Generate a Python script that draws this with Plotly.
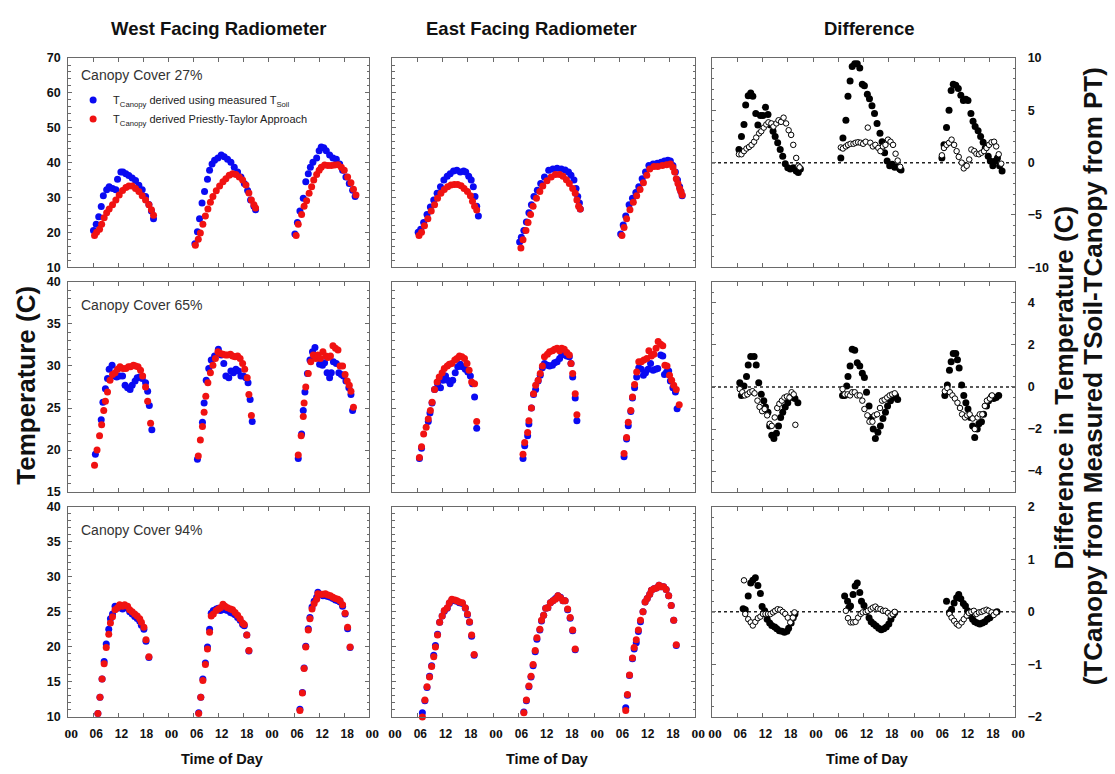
import plotly.graph_objects as go

FIG_W, FIG_H = 1115, 774
SANS = "Liberation Sans, Arial, sans-serif"

# ---------------------------------------------------------------------------
# Data: hours since midnight of day 1 (three consecutive days), temperatures (C)
# ---------------------------------------------------------------------------

# Canopy cover 27 %, west facing radiometer
west27_soil_hr = ([6.05, 6.7, 7.3, 7.9, 8.4, 9.2, 9.8, 10.6, 11.4, 11.8, 12.6, 13.1, 13.8, 14.5, 15.3, 16.1, 16.9, 17.7, 18.5, 19.3, 19.9, 20.4]
                  + [30.3, 30.9, 31.4, 32.0, 32.6, 33.3, 33.8, 34.4, 35.0, 35.8, 36.6, 37.3, 38.1, 38.9, 39.7, 40.5, 41.3, 42.1, 42.9, 43.6, 44.4, 44.8]
                  + [54.2, 54.8, 55.4, 56.2, 56.8, 57.4, 57.9, 58.5, 59.4, 60.0, 60.5, 61.1, 61.7, 62.5, 63.3, 64.1, 64.9, 65.6, 66.4, 67.2, 68.0, 68.6])
west27_soil = ([20.5, 22.3, 24.5, 27.4, 30.5, 32.2, 33.1, 32.6, 32.2, 35.2, 37.3, 37.3, 36.8, 36.3, 35.6, 34.9, 33.5, 32.2, 30.3, 28.0, 26.1, 23.9]
               + [16.7, 20.2, 23.9, 28.4, 31.7, 35.2, 37.8, 39.6, 40.7, 41.3, 42.2, 41.7, 41.0, 40.1, 38.7, 37.3, 35.9, 34.0, 32.0, 29.3, 27.5, 26.5]
               + [19.5, 22.8, 26.1, 29.8, 34.5, 36.8, 38.7, 40.1, 41.3, 43.4, 44.5, 44.3, 43.4, 42.2, 41.3, 41.0, 39.6, 37.8, 35.9, 34.0, 32.1, 30.3])
west27_pt_hr = ([6.3, 6.8, 7.5, 8.0, 8.6, 9.2, 9.8, 10.6, 11.4, 12.2, 13.0, 13.8, 14.5, 15.3, 16.1, 16.9, 17.7, 18.5, 19.3, 19.9, 20.4]
                + [30.4, 31.1, 31.6, 32.2, 32.8, 33.4, 34.0, 34.6, 35.4, 36.2, 37.0, 37.7, 38.5, 39.3, 40.1, 40.9, 41.7, 42.5, 43.2, 43.8, 44.4, 44.8]
                + [54.5, 55.0, 55.8, 56.4, 57.0, 57.6, 58.2, 58.7, 59.4, 60.0, 60.5, 61.3, 62.1, 62.9, 63.7, 64.5, 65.3, 66.0, 66.8, 67.6, 68.2, 68.8])
west27_pt = ([19.1, 20.0, 20.9, 22.3, 24.2, 25.6, 26.7, 27.9, 29.3, 30.7, 32.0, 32.9, 33.3, 33.3, 32.6, 31.7, 30.5, 29.3, 27.9, 26.5, 24.9]
             + [16.3, 18.0, 19.8, 22.3, 24.7, 26.7, 28.6, 30.3, 31.9, 33.3, 34.5, 35.4, 36.4, 36.8, 36.6, 35.9, 35.0, 33.6, 31.3, 29.3, 27.9, 27.0]
             + [19.1, 22.3, 25.1, 27.5, 29.1, 31.2, 33.1, 35.0, 36.6, 37.8, 38.7, 39.3, 39.2, 39.2, 39.3, 39.4, 38.7, 37.8, 35.9, 34.2, 32.4, 30.7])

# Canopy cover 27 %, east facing radiometer
east27_soil_hr = ([6.2, 6.8, 7.5, 8.3, 9.1, 9.9, 10.7, 11.5, 12.3, 13.1, 13.8, 14.6, 15.4, 16.2, 17.0, 17.5, 18.2, 18.8, 19.3, 19.7, 20.1, 20.5]
                  + [30.3, 30.7, 31.3, 31.9, 32.5, 33.1, 33.7, 34.5, 35.3, 36.2, 37.2, 38.2, 39.2, 40.2, 41.1, 41.9, 42.5, 43.2, 43.7, 44.1, 44.5, 44.7]
                  + [54.3, 54.9, 55.5, 56.3, 57.1, 57.9, 58.6, 59.4, 60.2, 61.0, 62.0, 63.0, 63.9, 64.7, 65.5, 66.1, 66.7, 67.3, 67.8, 68.3, 68.6, 68.9])
east27_soil = ([20.0, 20.9, 22.8, 25.1, 27.3, 29.3, 31.2, 33.1, 35.0, 36.1, 36.8, 37.6, 37.8, 37.3, 37.6, 37.3, 36.1, 35.0, 33.1, 30.3, 27.5, 24.7]
               + [17.2, 18.6, 20.5, 23.0, 25.6, 27.9, 30.3, 32.1, 34.0, 35.9, 37.8, 38.2, 38.4, 38.2, 37.9, 37.3, 36.4, 35.0, 32.6, 30.3, 28.4, 26.7]
               + [19.5, 22.1, 24.7, 27.9, 29.8, 31.4, 33.1, 35.4, 37.3, 39.2, 39.6, 39.8, 40.1, 40.5, 40.7, 40.5, 39.2, 37.3, 35.0, 33.1, 31.7, 30.5])
east27_pt_hr = ([6.4, 7.0, 7.7, 8.5, 9.3, 10.1, 10.8, 11.6, 12.4, 13.2, 14.0, 14.8, 15.6, 16.4, 17.1, 17.9, 18.6, 19.1, 19.6, 20.1]
                + [30.6, 31.1, 31.8, 32.3, 32.9, 33.5, 34.3, 35.1, 35.8, 36.8, 37.8, 38.8, 39.8, 40.6, 41.4, 42.1, 42.9, 43.5, 43.9, 44.3, 44.7]
                + [54.6, 55.1, 55.7, 56.5, 57.3, 58.1, 58.9, 59.7, 60.5, 61.2, 62.2, 63.1, 64.2, 65.2, 66.1, 66.7, 67.1, 67.5, 67.9, 68.3, 68.6, 68.9])
east27_pt = ([19.1, 20.0, 21.9, 23.9, 26.1, 27.9, 29.8, 31.2, 32.3, 33.1, 33.6, 33.7, 33.7, 33.4, 32.6, 31.7, 30.5, 28.9, 27.5, 26.4]
             + [15.5, 17.9, 20.5, 22.8, 25.1, 27.5, 29.8, 31.7, 33.3, 34.8, 35.9, 36.6, 36.6, 36.1, 35.1, 34.0, 32.6, 31.2, 29.3, 27.5, 26.7]
             + [19.1, 21.4, 23.9, 26.5, 28.6, 30.5, 32.3, 34.2, 36.4, 38.2, 38.9, 38.9, 39.2, 39.4, 39.6, 38.7, 37.3, 35.4, 34.0, 32.6, 31.7, 30.7])

# Canopy cover 27 %, differences (west = filled, east = open)
diff27_west_hr = ([6.4, 7.0, 7.6, 8.0, 8.6, 9.2, 9.7, 10.4, 10.9, 11.5, 12.1, 12.7, 13.3, 13.9, 14.5, 15.0, 15.6, 16.2, 16.8, 17.4, 18.0, 18.6, 19.3, 20.0, 20.5, 21.0]
                  + [30.6, 31.1, 31.8, 32.3, 32.8, 33.3, 33.9, 34.5, 35.1, 35.7, 36.2, 36.9, 37.4, 38.0, 38.6, 39.2, 39.9, 40.4, 41.0, 41.6, 42.2, 42.8, 43.4, 43.9, 44.6, 44.9]
                  + [54.6, 55.1, 55.7, 56.3, 56.8, 57.3, 57.9, 58.5, 59.1, 59.7, 60.3, 60.8, 61.5, 62.0, 62.5, 63.2, 63.8, 64.4, 64.9, 65.6, 66.1, 66.7, 67.3, 67.8, 68.3, 68.9])
diff27_west = ([1.25, 2.5, 3.65, 5.5, 6.4, 6.65, 6.35, 4.7, 3.6, 4.5, 4.5, 5.3, 4.6, 3.6, 3.0, 2.5, 1.9, 1.25, 0.6, -0.1, -0.5, -0.6, -0.5, -0.8, -0.95, -0.6]
               + [0.45, 2.35, 4.05, 6.35, 7.8, 9.2, 9.45, 9.45, 9.05, 7.5, 7.35, 6.55, 6.1, 5.45, 4.7, 3.75, 2.8, 2.0, 0.95, 0.15, -0.3, -0.15, -0.45, -0.4, -0.6, -0.7]
               + [0.45, 1.7, 3.35, 5.0, 6.9, 7.5, 7.4, 7.1, 6.45, 5.95, 6.05, 5.95, 4.7, 3.95, 3.45, 3.05, 2.5, 1.95, 1.4, 0.6, 0.15, -0.3, 0.15, 0.45, -0.3, -0.8])
diff27_east_hr = ([6.4, 7.0, 7.6, 8.2, 8.8, 9.4, 10.0, 10.5, 11.2, 11.7, 12.3, 12.9, 13.4, 14.1, 14.6, 15.3, 15.8, 16.4, 17.0, 17.6, 18.2, 18.8, 19.3, 20.0, 20.5, 20.8]
                  + [30.6, 31.1, 31.8, 32.3, 32.9, 33.6, 34.1, 34.7, 35.3, 35.9, 36.5, 37.0, 37.6, 38.2, 38.8, 39.5, 40.0, 40.6, 41.2, 41.8, 42.4, 43.0, 43.6, 44.1, 44.7]
                  + [54.6, 55.1, 55.7, 56.3, 56.9, 57.5, 58.1, 58.6, 59.3, 59.8, 60.5, 61.1, 61.6, 62.3, 62.8, 63.4, 64.0, 64.6, 65.2, 65.8, 66.4, 67.0, 67.5, 68.1, 68.7])
diff27_east = ([0.8, 0.8, 1.1, 1.35, 1.5, 1.7, 2.0, 2.4, 2.8, 3.0, 3.35, 3.65, 3.85, 3.75, 3.45, 3.75, 4.05, 3.9, 4.3, 3.75, 3.1, 2.65, 1.7, 0.45, -0.3, -0.45]
               + [1.45, 1.35, 1.55, 1.7, 1.8, 1.8, 1.9, 1.95, 1.9, 1.8, 2.0, 3.35, 1.9, 1.55, 1.7, 1.4, 1.1, 1.55, 1.7, 2.2, 2.0, 1.7, 0.85, 0.2, -0.4]
               + [0.7, 1.4, 1.7, 1.9, 2.2, 1.7, 1.1, 0.55, 0.0, -0.55, -0.3, 0.3, 1.25, 1.1, 0.85, 0.8, 0.95, 1.1, 1.4, 1.7, 1.95, 2.0, 1.55, 0.8, -0.1])

# Canopy cover 65 %, west facing radiometer
west65_soil_hr = ([6.5, 7.9, 8.3, 8.9, 9.4, 9.8, 10.5, 11.0, 11.6, 12.3, 13.0, 13.6, 14.2, 14.8, 15.3, 16.0, 16.5, 17.1, 17.7, 18.5, 19.0, 19.4, 20.0]
                  + [30.9, 32.1, 32.5, 33.0, 33.6, 34.2, 35.0, 35.9, 36.6, 37.2, 37.7, 38.4, 38.9, 39.5, 40.1, 40.7, 41.3, 41.9, 42.5, 43.0, 43.5, 44.0]
                  + [55.0, 55.8, 56.2, 56.6, 57.2, 57.8, 58.4, 59.0, 59.5, 60.1, 60.8, 61.3, 61.9, 62.5, 62.9, 63.4, 64.1, 64.7, 65.3, 65.8, 66.4, 67.1, 67.6, 68.0])
west65_soil = ([19.5, 23.6, 25.7, 27.3, 28.5, 29.6, 30.1, 28.8, 28.7, 28.8, 28.8, 27.7, 27.4, 27.2, 27.7, 28.2, 28.6, 28.7, 28.5, 28.0, 27.0, 25.3, 22.4]
               + [18.9, 23.3, 25.6, 28.3, 29.7, 30.7, 31.2, 32.0, 31.3, 30.3, 28.8, 28.6, 29.4, 29.2, 29.6, 29.4, 28.8, 28.8, 28.6, 28.0, 26.0, 23.4]
               + [19.0, 21.9, 24.7, 26.9, 29.1, 30.7, 31.7, 32.2, 31.1, 30.2, 30.1, 30.4, 29.2, 28.6, 29.2, 30.5, 30.3, 29.2, 29.0, 28.8, 28.2, 27.4, 26.6, 24.7])
west65_pt_hr = ([6.3, 6.9, 7.5, 8.0, 8.5, 8.9, 9.4, 10.0, 10.6, 11.2, 11.8, 12.4, 13.1, 13.8, 14.4, 14.9, 15.6, 16.1, 16.7, 17.3, 17.8, 18.5, 19.0, 19.7]
                + [31.1, 31.6, 32.1, 32.5, 32.9, 33.4, 34.0, 34.6, 35.2, 35.8, 36.4, 37.0, 37.6, 38.1, 38.8, 39.3, 39.9, 40.5, 41.1, 41.7, 42.2, 42.8, 43.2, 43.8]
                + [55.0, 55.7, 56.2, 56.4, 56.8, 57.4, 58.0, 58.6, 59.2, 59.7, 60.3, 60.9, 61.6, 62.1, 62.7, 63.3, 63.9, 64.5, 65.0, 65.6, 66.2, 66.7, 67.2, 67.6, 68.2])
west65_pt = ([18.2, 20.0, 21.7, 23.0, 24.7, 25.8, 26.9, 28.3, 29.0, 29.2, 29.6, 29.9, 29.7, 29.7, 29.9, 29.9, 30.1, 30.0, 29.9, 29.5, 28.8, 27.5, 25.8, 23.2]
             + [19.3, 21.2, 22.8, 24.5, 26.4, 28.0, 29.2, 30.1, 30.9, 31.7, 31.5, 31.4, 31.3, 31.3, 31.4, 31.2, 31.1, 31.2, 30.9, 30.3, 29.6, 28.6, 26.6, 24.1]
             + [19.4, 21.7, 24.0, 25.6, 27.5, 29.1, 30.5, 31.3, 30.9, 31.3, 30.9, 31.7, 31.2, 31.0, 31.2, 32.4, 32.1, 31.9, 30.0, 30.0, 29.0, 28.2, 27.7, 27.0, 25.1])

# Canopy cover 65 %, east facing radiometer
east65_soil_hr = ([6.5, 7.0, 8.6, 9.0, 9.5, 10.1, 10.8, 11.5, 12.1, 12.7, 13.2, 13.8, 14.4, 15.0, 15.6, 16.2, 16.7, 17.4, 18.0, 18.6, 19.1, 19.6, 20.1]
                  + [31.1, 31.5, 32.2, 32.5, 33.1, 33.6, 34.1, 34.7, 35.2, 35.7, 36.2, 36.9, 37.4, 38.1, 38.6, 39.2, 39.8, 40.3, 40.9, 41.5, 42.1, 42.5, 42.9, 43.5, 43.9]
                  + [55.1, 55.7, 56.1, 56.7, 57.1, 57.6, 58.1, 58.6, 59.2, 59.7, 60.2, 60.8, 61.4, 62.0, 62.6, 63.1, 63.8, 64.3, 64.7, 65.2, 65.7, 66.1, 66.7, 67.3, 67.7])
east65_soil = ([19.0, 20.2, 23.4, 24.4, 25.6, 27.2, 27.9, 27.4, 28.3, 28.8, 28.3, 27.9, 28.3, 29.2, 29.9, 30.2, 29.9, 29.6, 29.3, 28.8, 27.9, 26.3, 22.6]
               + [19.0, 20.5, 21.7, 23.1, 25.0, 26.6, 27.2, 28.2, 28.9, 29.8, 30.3, 30.1, 30.0, 30.1, 30.4, 30.5, 30.9, 31.3, 31.6, 31.2, 31.1, 30.3, 28.7, 26.2, 23.5]
               + [19.2, 21.3, 22.9, 24.6, 26.2, 27.4, 28.7, 29.8, 29.6, 28.9, 29.2, 29.6, 30.3, 29.5, 29.6, 29.7, 31.3, 31.2, 29.0, 29.3, 29.4, 28.2, 27.4, 26.9, 24.9])
east65_pt_hr = ([6.5, 7.0, 7.5, 8.1, 8.6, 9.1, 9.5, 10.1, 10.7, 11.2, 11.9, 12.4, 13.1, 13.6, 14.2, 14.9, 15.4, 16.0, 16.6, 17.2, 17.8, 18.3, 18.9, 19.6, 20.1]
                + [31.1, 31.5, 32.2, 32.5, 33.1, 33.6, 34.1, 34.7, 35.2, 35.7, 36.2, 36.9, 37.4, 38.1, 38.6, 39.2, 39.8, 40.3, 40.9, 41.5, 42.1, 42.5, 42.9, 43.5, 43.9]
                + [55.1, 55.7, 56.1, 56.7, 57.1, 57.6, 58.1, 58.6, 59.2, 59.8, 60.5, 61.0, 61.6, 62.2, 62.7, 63.2, 63.8, 64.3, 64.8, 65.3, 65.9, 66.4, 66.9, 67.5, 68.2])
east65_pt = ([19.1, 20.4, 21.9, 22.7, 23.7, 24.7, 25.7, 27.2, 28.1, 28.7, 29.2, 29.7, 30.0, 30.2, 30.3, 30.7, 30.9, 31.2, 31.1, 30.9, 30.3, 29.5, 28.1, 27.9, 23.4]
             + [19.5, 20.9, 22.1, 23.5, 25.0, 26.7, 27.7, 28.3, 29.1, 30.0, 31.1, 31.4, 31.7, 31.8, 32.0, 32.1, 31.8, 32.1, 32.0, 31.6, 31.3, 30.3, 29.1, 26.7, 24.2]
             + [19.6, 21.5, 23.3, 24.7, 26.3, 27.8, 29.3, 30.5, 30.5, 30.7, 30.9, 31.8, 31.2, 31.4, 32.1, 32.9, 32.6, 32.4, 30.1, 30.0, 28.9, 28.3, 27.7, 27.2, 25.4])

# Canopy cover 65 %, differences
diff65_west_hr = ([6.6, 7.0, 7.6, 8.2, 8.6, 9.2, 10.0, 10.5, 11.1, 11.7, 12.3, 12.7, 13.3, 13.7, 14.2, 14.7, 15.3, 15.8, 16.3, 16.8, 17.4, 18.0, 18.6, 19.2, 19.7, 20.4]
                  + [31.0, 31.5, 32.0, 32.3, 32.8, 33.3, 33.9, 34.5, 35.1, 35.7, 36.2, 36.7, 37.3, 37.8, 38.3, 38.8, 39.4, 40.0, 40.6, 41.2, 41.7, 42.4, 43.0, 43.6, 44.1]
                  + [55.3, 55.9, 56.4, 56.8, 57.3, 57.9, 58.3, 58.7, 59.3, 59.8, 60.3, 60.8, 61.4, 61.9, 62.4, 63.0, 63.4, 64.0, 64.5, 65.2, 65.7, 66.4, 66.9, 67.5, 68.1])
diff65_west = ([0.2, -0.4, 0.05, 0.5, 1.05, 1.45, 1.45, 1.05, 0.2, -0.35, -0.65, -0.95, -1.2, -1.85, -2.3, -2.45, -2.2, -1.85, -1.45, -1.2, -0.95, -0.75, -0.5, -0.4, -0.55, -0.75]
               + [-0.4, -0.4, 0.05, 0.5, 1.0, 1.8, 1.75, 1.15, 1.0, 0.65, 0.45, -0.25, -0.9, -1.45, -2.0, -2.45, -2.15, -1.85, -1.5, -1.2, -0.9, -0.65, -0.5, -0.4, -0.6]
               + [-0.4, 0.1, 0.8, 1.2, 1.6, 1.6, 1.3, 0.9, 0.1, -0.4, -0.75, -1.05, -1.45, -1.85, -2.4, -2.0, -1.75, -1.65, -1.3, -0.9, -0.65, -0.45, -0.55, -0.5, -0.4])
diff65_east_hr = ([6.6, 7.2, 7.8, 8.4, 9.0, 9.6, 10.1, 10.8, 11.3, 11.9, 12.5, 13.1, 13.7, 14.2, 14.9, 15.5, 16.0, 16.6, 17.2, 17.8, 18.4, 18.9, 19.4, 19.8]
                  + [31.0, 31.5, 32.2, 32.8, 33.3, 33.9, 34.5, 35.1, 35.7, 36.2, 36.9, 37.4, 38.1, 38.6, 39.2, 39.9, 40.4, 41.0, 41.6, 42.2, 42.8, 43.4]
                  + [55.3, 55.9, 56.5, 57.1, 57.7, 58.3, 58.9, 59.4, 60.1, 60.6, 61.2, 61.9, 62.4, 63.1, 63.6, 64.2, 64.8, 65.3, 66.0, 66.5])
diff65_east = ([-0.1, -0.25, -0.4, -0.35, -0.25, -0.2, -0.3, -0.65, -0.95, -1.15, -1.05, -1.35, -1.75, -1.85, -1.45, -1.0, -0.8, -0.65, -0.5, -0.45, -0.5, -0.25, -0.35, -1.8]
               + [-0.1, -0.35, -0.35, -0.4, -0.25, -0.25, -0.4, -0.4, -0.65, -1.05, -1.35, -1.65, -1.65, -1.35, -1.3, -1.0, -0.65, -0.6, -0.5, -0.4, -0.35, -0.3]
               + [-0.2, -0.05, -0.25, -0.4, -0.55, -0.75, -1.0, -1.3, -1.45, -1.35, -1.3, -1.5, -2.0, -1.45, -1.3, -1.3, -0.9, -0.65, -0.55, -0.4])

# Canopy cover 94 %, west facing radiometer (both series sampled at the same times)
west94_hr = ([7.1, 7.6, 8.1, 8.6, 9.1, 9.7, 10.1, 10.6, 11.2, 11.8, 12.3, 13.0, 13.5, 14.2, 14.7, 15.3, 15.9, 16.5, 17.1, 17.5, 18.1, 18.6, 19.3]
             + [31.2, 31.7, 32.2, 32.8, 33.3, 33.8, 34.2, 34.7, 35.4, 35.9, 36.4, 37.0, 37.5, 38.1, 38.8, 39.3, 39.9, 40.5, 41.1, 41.7, 42.1, 42.7, 43.2]
             + [55.4, 56.0, 56.4, 56.8, 57.4, 57.8, 58.3, 58.8, 59.4, 59.7, 60.3, 60.9, 61.5, 62.1, 62.7, 63.3, 63.9, 64.5, 65.0, 65.6, 66.2, 66.8, 67.4])
west94_soil = ([10.5, 12.8, 15.4, 17.9, 20.4, 22.5, 24.0, 24.7, 25.8, 25.5, 25.7, 25.4, 25.7, 25.5, 25.0, 24.7, 24.35, 24.05, 23.65, 23.1, 22.5, 20.8, 18.5]
               + [10.6, 12.8, 15.4, 17.7, 20.0, 22.5, 24.8, 25.2, 25.4, 25.5, 25.2, 25.4, 25.3, 25.2, 24.9, 24.8, 24.6, 24.2, 23.8, 23.2, 23.0, 21.7, 19.4]
               + [11.1, 13.5, 17.0, 20.1, 22.6, 24.2, 25.7, 26.5, 27.1, 27.8, 27.5, 27.3, 27.3, 27.2, 27.1, 26.9, 26.7, 26.6, 26.4, 25.8, 24.7, 22.6, 19.9])
west94_pt = ([10.5, 12.8, 15.4, 17.6, 19.9, 21.8, 23.4, 24.3, 25.3, 25.6, 26.0, 25.8, 26.0, 25.8, 25.3, 25.0, 24.7, 24.4, 24.0, 23.5, 22.8, 21.0, 18.6]
             + [10.5, 12.8, 15.2, 17.5, 19.7, 22.1, 24.4, 24.7, 25.2, 25.4, 25.6, 26.1, 25.8, 25.6, 25.4, 25.3, 24.9, 24.5, 24.0, 23.4, 23.2, 21.7, 19.5]
             + [10.9, 13.4, 16.9, 20.0, 22.4, 24.0, 25.4, 26.2, 26.8, 27.6, 27.5, 27.5, 27.6, 27.4, 27.3, 27.1, 26.9, 26.8, 26.6, 26.0, 24.8, 22.8, 20.0])

# Canopy cover 94 %, east facing radiometer
east94_hr = ([7.2, 7.8, 8.3, 8.9, 9.4, 9.9, 10.3, 10.8, 11.3, 11.9, 12.4, 13.1, 13.6, 14.2, 14.9, 15.4, 16.0, 16.7, 17.4, 17.9, 18.4, 18.9, 19.5]
             + [31.3, 31.9, 32.5, 33.0, 33.5, 34.0, 34.4, 35.1, 35.5, 36.0, 36.5, 37.0, 37.6, 38.2, 38.8, 39.4, 40.0, 40.6, 41.1, 41.7, 42.3, 42.9, 43.5]
             + [55.5, 55.9, 56.4, 57.1, 57.5, 58.0, 58.5, 59.0, 59.6, 60.1, 60.6, 61.2, 61.6, 62.2, 62.8, 63.4, 63.9, 64.5, 65.1, 65.7, 66.3, 66.9, 67.5])
east94_soil = ([10.6, 12.3, 14.2, 15.8, 17.3, 18.8, 20.2, 21.8, 23.5, 24.4, 25.1, 25.5, 26.2, 26.7, 26.6, 26.5, 26.3, 26.2, 25.5, 24.6, 23.5, 21.5, 18.8]
               + [10.7, 12.3, 14.3, 15.7, 17.3, 19.3, 21.1, 22.4, 23.7, 24.5, 25.5, 25.6, 26.3, 26.6, 26.9, 27.3, 27.1, 26.6, 26.6, 25.3, 24.1, 22.3, 19.6]
               + [11.3, 13.1, 15.9, 18.3, 19.7, 20.6, 22.2, 23.6, 25.0, 26.4, 26.9, 27.5, 28.1, 28.3, 28.4, 28.8, 28.6, 28.6, 28.2, 27.3, 25.9, 23.8, 20.2])
east94_pt = ([10.0, 12.4, 14.3, 15.7, 17.2, 18.6, 20.0, 21.7, 23.5, 24.4, 25.2, 25.6, 26.3, 26.8, 26.7, 26.6, 26.4, 26.3, 25.6, 24.7, 23.6, 21.7, 18.9]
             + [10.6, 12.4, 14.4, 15.8, 17.5, 19.5, 21.3, 22.5, 23.8, 24.5, 25.5, 25.6, 26.3, 26.6, 26.8, 27.3, 27.0, 26.6, 26.6, 25.4, 24.2, 22.4, 19.7]
             + [10.9, 13.2, 16.0, 18.4, 19.9, 21.0, 22.4, 23.8, 25.0, 26.4, 26.9, 27.5, 28.1, 28.3, 28.4, 28.8, 28.6, 28.6, 28.2, 27.3, 25.9, 23.8, 20.3])

# Canopy cover 94 %, differences
diff94_west_hr = ([7.4, 7.9, 8.6, 9.2, 9.7, 10.3, 10.9, 11.5, 11.9, 12.5, 13.1, 13.7, 14.2, 14.9, 15.4, 16.0, 16.6, 17.2, 17.8, 18.2, 18.8, 19.3, 19.7]
                  + [31.5, 32.2, 32.5, 32.9, 33.5, 34.0, 34.5, 35.1, 35.5, 36.1, 36.6, 37.3, 37.8, 38.4, 39.0, 39.6, 40.2, 40.8, 41.4, 42.0, 42.5, 43.0, 43.4]
                  + [55.7, 56.4, 56.9, 57.5, 58.1, 58.6, 59.1, 59.7, 60.2, 60.7, 61.2, 61.9, 62.4, 63.0, 63.6, 64.2, 64.8, 65.4, 66.0, 66.5, 67.1, 67.7])
diff94_west = ([0.06, 0.04, 0.3, 0.55, 0.6, 0.65, 0.5, 0.35, 0.1, 0.02, -0.14, -0.21, -0.26, -0.29, -0.32, -0.36, -0.37, -0.39, -0.37, -0.31, -0.21, -0.11, -0.04]
               + [0.3, 0.2, 0.08, 0.11, 0.33, 0.49, 0.55, 0.37, 0.2, 0.12, 0.0, -0.11, -0.19, -0.23, -0.27, -0.31, -0.34, -0.32, -0.29, -0.23, -0.14, -0.06, -0.01]
               + [0.2, -0.01, 0.05, 0.17, 0.27, 0.33, 0.25, 0.16, 0.11, 0.02, -0.07, -0.14, -0.19, -0.21, -0.23, -0.21, -0.19, -0.14, -0.11, -0.06, -0.02, 0.0])
diff94_east_hr = ([7.6, 7.9, 8.6, 9.2, 9.7, 10.3, 10.9, 11.5, 12.1, 12.7, 13.3, 13.9, 14.5, 15.0, 15.6, 16.2, 16.8, 17.4, 18.0, 18.6, 19.2, 19.6]
                  + [31.8, 32.3, 32.9, 33.5, 34.1, 34.7, 35.3, 35.8, 36.5, 37.0, 37.7, 38.2, 38.8, 39.4, 40.0, 40.6, 41.2, 41.8, 42.4, 42.9, 43.4]
                  + [56.4, 56.9, 57.5, 58.1, 58.6, 59.3, 59.8, 60.5, 61.0, 61.6, 62.2, 62.8, 63.4, 64.0, 64.5, 65.2, 65.7, 66.4, 66.9, 67.5])
diff94_east = ([0.6, -0.04, -0.14, -0.2, -0.26, -0.19, -0.12, -0.09, -0.04, -0.04, -0.04, -0.04, -0.01, 0.02, 0.05, 0.04, 0.0, -0.04, -0.11, -0.2, -0.11, -0.01]
               + [0.02, -0.12, -0.2, -0.2, -0.19, -0.11, -0.04, -0.01, 0.0, 0.02, 0.05, 0.08, 0.1, 0.06, 0.05, 0.02, 0.02, -0.02, -0.07, -0.04, 0.0]
               + [-0.04, -0.11, -0.17, -0.23, -0.26, -0.2, -0.14, -0.07, -0.02, 0.0, 0.02, -0.04, -0.01, 0.0, 0.02, 0.04, 0.02, -0.01, -0.06, -0.01])

# Text
column_titles = ["West Facing Radiometer", "East Facing Radiometer", "Difference"]
cover_labels = ["Canopy Cover 27%", "Canopy Cover 65%", "Canopy Cover 94%"]
soil_name = "T<sub>Canopy</sub> derived using measured T<sub>Soil</sub>"
pt_name = "T<sub>Canopy</sub> derived Priestly-Taylor Approach"
hour_ticks = list(range(0, 73, 6))
hour_labels = ["00", "06", "12", "18"] * 3 + ["00"]

# ---------------------------------------------------------------------------
# Layout helpers
# ---------------------------------------------------------------------------
BLUE = "#0a0af2"
RED = "#f01212"
FRAME = "#6a6a6a"
INK = "#111111"

col_px = [(65, 370), (393, 700), (717, 1024)]
row_px = [(52, 265), (280, 494), (509, 723)]
col_center = [218, 534, 876]

temp_scale = [([10, 70], 10, 2), ([15, 40], 5, 1), ([10, 40], 5, 1)]
diff_scale = [([-10, 10], 5, 1), ([-5, 5], 2, 0.5), ([-2, 2], 1, 0.2)]


def hour_text(lbl):
    # midnight labels are set in a serif face
    if lbl == "00":
        return f"<span style='font-family:Liberation Serif;font-size:13.5px'>{lbl}</span>"
    return lbl


panel_series = {
    # (row, col): list of (x, y, kind)
    (0, 0): [(west27_soil_hr, west27_soil, "soil"), (west27_pt_hr, west27_pt, "pt")],
    (0, 1): [(east27_soil_hr, east27_soil, "soil"), (east27_pt_hr, east27_pt, "pt")],
    (0, 2): [(diff27_west_hr, diff27_west, "west"), (diff27_east_hr, diff27_east, "east")],
    (1, 0): [(west65_soil_hr, west65_soil, "soil"), (west65_pt_hr, west65_pt, "pt")],
    (1, 1): [(east65_soil_hr, east65_soil, "soil"), (east65_pt_hr, east65_pt, "pt")],
    (1, 2): [(diff65_west_hr, diff65_west, "west"), (diff65_east_hr, diff65_east, "east")],
    (2, 0): [(west94_hr, west94_soil, "soil"), (west94_hr, west94_pt, "pt")],
    (2, 1): [(east94_hr, east94_soil, "soil"), (east94_hr, east94_pt, "pt")],
    (2, 2): [(diff94_west_hr, diff94_west, "west"), (diff94_east_hr, diff94_east, "east")],
}

fig = go.Figure()
layout_axes = {}
shapes = []

for r in range(3):
    for c in range(3):
        k = r * 3 + c + 1
        xs = "" if k == 1 else str(k)
        x0, x1 = col_px[c]
        y0, y1 = row_px[r]

        xaxis = dict(
            domain=[x0 / FIG_W, x1 / FIG_W], anchor=f"y{xs}", range=[0, 72],
            tickmode="array", tickvals=hour_ticks,
            showticklabels=(r == 2), ticks="inside", ticklen=4, tickwidth=1,
            tickcolor=FRAME, showline=True, linecolor=FRAME, linewidth=1,
            mirror="ticks", showgrid=False, zeroline=False,
        )
        if r == 2:
            xaxis.update(
                ticktext=[hour_text(t) for t in hour_labels],
                tickfont=dict(family=SANS, size=12, color=INK, weight="bold"),
                ticklabelstandoff=6, ticklabelshift=3,
            )
        layout_axes[f"xaxis{xs}"] = xaxis

        if c < 2:
            rng, dt, mdt = temp_scale[r]
        else:
            rng, dt, mdt = diff_scale[r]
        yaxis = dict(
            domain=[1 - y1 / FIG_H, 1 - y0 / FIG_H], anchor=f"x{xs}", range=rng,
            tick0=0, dtick=dt, showticklabels=(c != 1), side="right" if c == 2 else "left",
            ticks="inside", ticklen=4, tickwidth=1, tickcolor=FRAME,
            minor=dict(ticks="inside", dtick=mdt, tick0=0, ticklen=2.5, tickcolor=FRAME),
            showline=True, linecolor=FRAME, linewidth=1, mirror="ticks",
            showgrid=False, zeroline=False,
        )
        if c != 1:
            yaxis.update(
                tickfont=dict(family=SANS, size=12.5, color=INK, weight="bold"),
                ticklabelstandoff=4 if c == 0 else 9,
            )
        layout_axes[f"yaxis{xs}"] = yaxis

        for x, y, kind in panel_series[(r, c)]:
            if kind == "soil":
                marker = dict(color=BLUE, size=7)
                name = soil_name
            elif kind == "pt":
                marker = dict(color=RED, size=7)
                name = pt_name
            elif kind == "west":
                marker = dict(color="#000000", size=7)
                name = "West"
            else:
                marker = dict(color="#ffffff", size=5.5, line=dict(color="#000000", width=1))
                name = "East"
            fig.add_trace(go.Scatter(
                x=x, y=y, mode="markers", marker=marker, name=name,
                xaxis=f"x{xs}", yaxis=f"y{xs}", cliponaxis=False,
                showlegend=(k == 1), hoverinfo="x+y",
            ))

        if c == 2:
            shapes.append(dict(
                type="line", xref=f"x{xs} domain", x0=0, x1=1, yref=f"y{xs}", y0=0, y1=0,
                line=dict(color="#222222", width=1.5, dash="dot"), layer="below",
            ))

annotations = []
for c, title in enumerate(column_titles):
    annotations.append(dict(
        text=title, x=col_center[c] / FIG_W, y=1 - 22 / FIG_H, xref="paper", yref="paper",
        xanchor="center", yanchor="middle", showarrow=False,
        font=dict(family=SANS, size=18.5, color=INK, weight="bold"),
    ))
    annotations.append(dict(
        text="Time of Day", x=(sum(col_px[c]) / 2 + 3) / FIG_W, y=1 - 766 / FIG_H,
        xref="paper", yref="paper", xanchor="center", yanchor="middle", showarrow=False,
        font=dict(family=SANS, size=14.5, color=INK, weight="bold"),
    ))

for r, label in enumerate(cover_labels):
    cy = [69, 303, 533][r]
    annotations.append(dict(
        text=label, x=76 / FIG_W, y=1 - cy / FIG_H, xref="paper", yref="paper",
        xanchor="left", yanchor="middle", showarrow=False,
        font=dict(family=SANS, size=14, color="#333333"),
    ))

annotations.append(dict(
    text="Temperature (C)", x=22 / FIG_W, y=1 - 385 / FIG_H, xref="paper", yref="paper",
    xanchor="center", yanchor="middle", textangle=-90, showarrow=False,
    font=dict(family=SANS, size=26, color=INK, weight="bold"),
))
annotations.append(dict(
    text="Difference in Temperature (C)", x=1073 / FIG_W, y=1 - 388 / FIG_H,
    xref="paper", yref="paper", xanchor="center", yanchor="middle", textangle=-90,
    showarrow=False, font=dict(family=SANS, size=26, color=INK, weight="bold"),
))
annotations.append(dict(
    text="(TCanopy from Measured TSoil-TCanopy from PT)", x=1103 / FIG_W, y=1 - 376 / FIG_H,
    xref="paper", yref="paper", xanchor="center", yanchor="middle", textangle=-90,
    showarrow=False, font=dict(family=SANS, size=26, color=INK, weight="bold"),
))

fig.update_layout(
    width=FIG_W, height=FIG_H, autosize=False,
    margin=dict(l=0, r=0, t=0, b=0),
    paper_bgcolor="white", plot_bgcolor="white",
    showlegend=True,
    legend=dict(
        x=70 / FIG_W, y=1 - 80 / FIG_H, xanchor="left", yanchor="top",
        bgcolor="rgba(0,0,0,0)", borderwidth=0,
        font=dict(family=SANS, size=11, color="#222222"),
        itemclick=False, itemdoubleclick=False,
    ),
    annotations=annotations,
    shapes=shapes,
    **layout_axes,
)

fig.write_html("out.html")
